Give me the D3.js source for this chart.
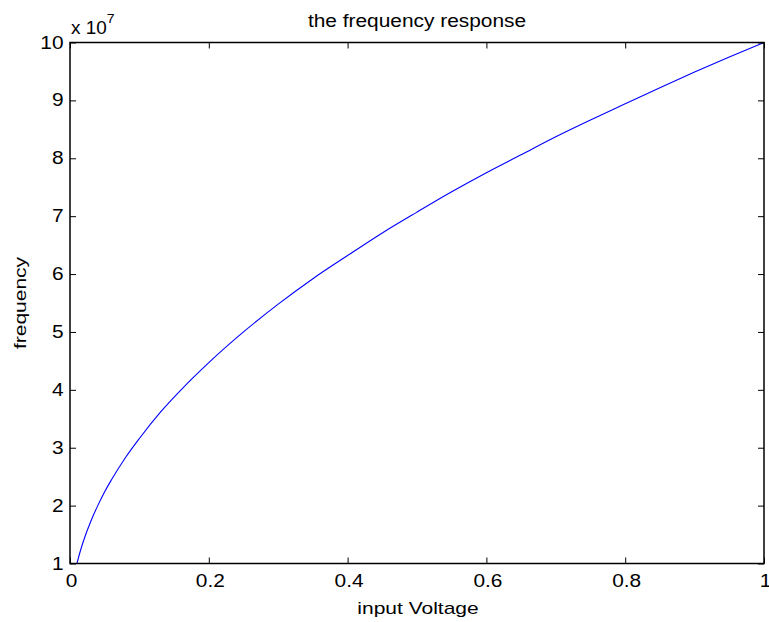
<!DOCTYPE html>
<html>
<head>
<meta charset="utf-8">
<script src="https://cdn.jsdelivr.net/npm/d3@7"></script>
<style>
  html, body { margin: 0; padding: 0; background: #fff; }
  svg { display: block; }
  text { font-family: "Liberation Sans", Arial, Helvetica, sans-serif; fill: #000; }
</style>
</head>
<body>
<svg id="chart" width="769" height="622"></svg>
<script>
// ---- data ----
const voltage = [0.01, 0.015, 0.02, 0.03, 0.04, 0.05, 0.06, 0.08, 0.10, 0.13, 0.16, 0.20, 0.25, 0.30, 0.35, 0.40, 0.45, 0.50, 0.55, 0.60, 0.65, 0.70, 0.75, 0.80, 0.85, 0.90, 0.95, 1.00];
const frequency = [1.00e7, 1.22e7, 1.41e7, 1.73e7, 2.00e7, 2.24e7, 2.45e7, 2.83e7, 3.16e7, 3.61e7, 4.00e7, 4.47e7, 5.00e7, 5.48e7, 5.92e7, 6.32e7, 6.71e7, 7.07e7, 7.42e7, 7.75e7, 8.06e7, 8.37e7, 8.66e7, 8.94e7, 9.22e7, 9.49e7, 9.75e7, 1.00e8];
const xTicks = [0, 0.2, 0.4, 0.6, 0.8, 1];
const xTickLabels = ["0", "0.2", "0.4", "0.6", "0.8", "1"];
const yTicks = [1e7, 2e7, 3e7, 4e7, 5e7, 6e7, 7e7, 8e7, 9e7, 1e8];
const yTickLabels = ["1", "2", "3", "4", "5", "6", "7", "8", "9", "10"];
const titleText = "the frequency response";
const xLabelText = "input Voltage";
const yLabelText = "frequency";
const exponentBase = "x 10";
const exponentPower = "7";

// ---- layout ----
const L = 70, R = 764, T = 42.5, B = 563.5;
const svg = d3.select("#chart");

const x = d3.scaleLinear().domain([0, 1]).range([L, R]);
const y = d3.scaleLinear().domain([1e7, 1e8]).range([B, T]);

// line
const line = d3.line()
  .x((d, i) => x(voltage[i]))
  .y(d => y(d))
  .curve(d3.curveMonotoneX);
svg.append("path")
  .datum(frequency)
  .attr("d", line)
  .attr("fill", "none")
  .attr("stroke", "#0000ff")
  .attr("stroke-width", 1.1);

// axes (ticks drawn inward, box style)
function styleAxis(g) {
  g.selectAll(".domain").remove();
  g.selectAll(".tick line").attr("stroke", "#000").attr("stroke-width", 1);
}
const fmtX = (d) => xTickLabels[xTicks.indexOf(d)];
const fmtY = (d) => yTickLabels[yTicks.indexOf(d)];
const TICK_FS = "18.5px", TICK_SX = 1.13;

const gB = svg.append("g").attr("transform", `translate(0,${B})`)
  .call(d3.axisBottom(x).tickValues(xTicks).tickFormat(fmtX).tickSizeInner(-6).tickSizeOuter(0));
styleAxis(gB);
gB.selectAll(".tick text")
  .attr("y", 0).attr("dy", 0)
  .attr("transform", `translate(1,23.8) scale(${TICK_SX},1)`)
  .style("font-size", TICK_FS).style("font-family", "Liberation Sans, Arial, sans-serif");

const gT = svg.append("g").attr("transform", `translate(0,${T})`)
  .call(d3.axisTop(x).tickValues(xTicks).tickFormat("").tickSizeInner(-6).tickSizeOuter(0));
styleAxis(gT);

const gL = svg.append("g").attr("transform", `translate(${L},0)`)
  .call(d3.axisLeft(y).tickValues(yTicks).tickFormat(fmtY).tickSizeInner(-6).tickSizeOuter(0));
styleAxis(gL);
gL.selectAll(".tick text")
  .attr("x", 0).attr("dy", 0)
  .attr("transform", `translate(-6.5,5.5) scale(${TICK_SX},1)`)
  .style("font-size", TICK_FS).style("font-family", "Liberation Sans, Arial, sans-serif");

const gR = svg.append("g").attr("transform", `translate(${R},0)`)
  .call(d3.axisRight(y).tickValues(yTicks).tickFormat("").tickSizeInner(-6).tickSizeOuter(0));
styleAxis(gR);

// frame
svg.append("rect")
  .attr("x", L).attr("y", T).attr("width", R - L).attr("height", B - T)
  .attr("fill", "none").attr("stroke", "#000").attr("stroke-width", 1.5);

// title
svg.append("text")
  .attr("transform", `translate(${(L + R) / 2},27) scale(1.16,1)`)
  .attr("text-anchor", "middle")
  .style("font-size", "18px")
  .text(titleText);

// x label
svg.append("text")
  .attr("transform", `translate(${(L + R) / 2 + 1},613.5) scale(1.25,1)`)
  .attr("text-anchor", "middle")
  .style("font-size", "16.8px")
  .text(xLabelText);

// y label
svg.append("text")
  .attr("transform", `translate(26,${(T + B) / 2}) rotate(-90) scale(1.25,1)`)
  .attr("text-anchor", "middle")
  .style("font-size", "16.8px")
  .text(yLabelText);

// exponent
const ex = svg.append("text")
  .attr("transform", `translate(71,33.5) scale(1.08,1)`)
  .style("font-size", "17.5px");
ex.append("tspan").text(exponentBase);
ex.append("tspan").attr("dy", -11).style("font-size", "13px").text(exponentPower);
</script>
</body>
</html>
